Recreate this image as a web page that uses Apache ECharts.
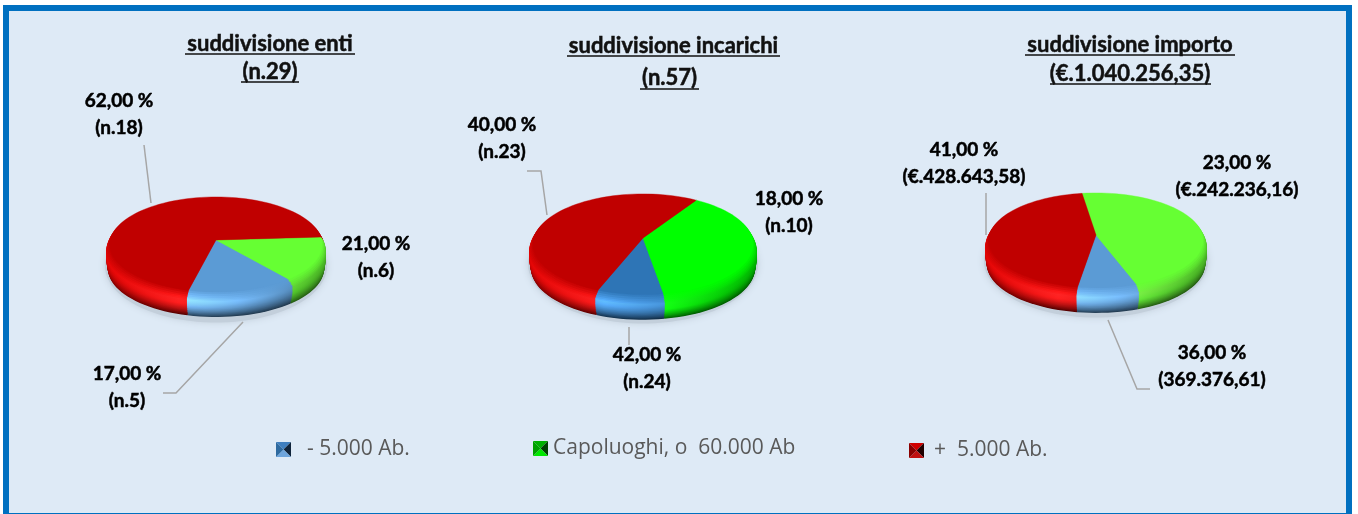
<!DOCTYPE html>
<html>
<head>
<meta charset="utf-8">
<title>suddivisione</title>
<style>
  html, body { margin: 0; padding: 0; background: #fff; }
  #main { width: 1358px; height: 514px; }
</style>
<script src="https://cdn.jsdelivr.net/npm/echarts@6/dist/echarts.min.js"></script>
</head>
<body>
<div id="main"></div>
<script>
// categories, in the legend order
const categories = ['- 5.000 Ab.', 'Capoluoghi, o  60.000 Ab', '+  5.000 Ab.'];

// slice shares as drawn in the picture (blue, green, red)
const sharesEnti = [14.8, 15.0, 70.2];
const sharesIncarichi = [8.6, 38.3, 53.1];
const sharesImporto = [8.0, 46.8, 45.2];

// printed texts
const titlesEnti = ['suddivisione enti', '(n.29)'];
const titlesIncarichi = ['suddivisione incarichi', '(n.57)'];
const titlesImporto = ['suddivisione importo', '(€.1.040.256,35)'];
const labelsEnti = [['17,00 %', '(n.5)'], ['21,00 %', '(n.6)'], ['62,00 %', '(n.18)']];
const labelsIncarichi = [['42,00 %', '(n.24)'], ['18,00 %', '(n.10)'], ['40,00 %', '(n.23)']];
const labelsImporto = [['36,00 %', '(369.376,61)'], ['23,00 %', '(€.242.236,16)'], ['41,00 %', '(€.428.643,58)']];

// layout of the three pies: apex, radii of the tilted disc, start of the green slice
const pies = [
  { shares: sharesEnti, ax: 216, ay: 240, rx: 110, ry: 49.5, k: 0.13, start: -3.6,
    colors: ['#5B9BD5', '#66FF33', '#C00000'],
    titles: titlesEnti, titleX: [270, 270], titleY: [44, 72],
    labels: labelsEnti, labelPos: [[127, 374], [376, 244], [119, 101]],
    leaders: [[[243, 322], [176, 393], [163, 393]], [[144, 145], [151, 203]]] },
  { shares: sharesIncarichi, ax: 643, ay: 238, rx: 114, ry: 52.5, k: 0.16, start: -57.4,
    colors: ['#2E75B6', '#00FF00', '#C00000'],
    titles: titlesIncarichi, titleX: [673.5, 669.5], titleY: [46, 78],
    labels: labelsIncarichi, labelPos: [[647, 355], [789, 199], [502, 125]],
    leaders: [[[629, 327], [629, 345]], [[527, 171], [541, 171], [547, 215]]] },
  { shares: sharesImporto, ax: 1096, ay: 235, rx: 111, ry: 49.5, k: 0.15, start: -98.4,
    colors: ['#5B9BD5', '#66FF33', '#C00000'],
    titles: titlesImporto, titleX: [1130, 1130], titleY: [45, 74],
    labels: labelsImporto, labelPos: [[1212, 353], [1237, 163], [964, 150]],
    leaders: [[[1108, 320], [1137, 389], [1150, 389]], [[986, 193], [986, 235]]] }
];

const RIM = 23;
const LIT = 6;

function hexRgb(hex) {
  return [1, 3, 5].map(i => parseInt(hex.substr(i, 2), 16));
}

function shade(rgb, f, w) {
  return 'rgb(' + rgb.map(c => Math.min(255, Math.round(c * f + 255 * w))).join(',') + ')';
}

function lerp(a, b, t) {
  return a + (b - a) * t;
}

// bevel: the flat top sits a bit inside the widest ring
function ringInset(t) {
  if (t < LIT) {
    return 0.06 * Math.pow(1 - t / LIT, 2);
  }
  return 0.03 * Math.pow((t - LIT) / (RIM - LIT), 2);
}

// light comes from the lower left of the disc
function rimFill(base, t, pie) {
  const rgb = hexRgb(base);
  const left = pie.ax - pie.rx;
  const right = pie.ax + pie.rx;
  const stops = [
    [0, 1.17, 0.02, 0.7],
    [0.33, 1.3, 0.14, 0.45],
    [0.6, 1.1, 0.08, 0.38],
    [1, 0.72, 0, 0.36]
  ].map(s => {
    let f, w;
    if (t < LIT) {
      f = lerp(1, s[1], t / LIT);
      w = lerp(0, s[2], t / LIT);
    } else {
      const q = Math.pow((t - LIT) / (RIM - LIT), 1.4);
      f = lerp(s[1], s[3], q);
      w = lerp(s[2], 0, q);
    }
    return { offset: s[0], color: shade(rgb, f, w) };
  });
  return new echarts.graphic.LinearGradient(left, 0, right, 0, stops, true);
}

function slicePoints(pie, a0, a1, t) {
  const k = pie.k;
  const sx = pie.rx * Math.sqrt(1 - k * k);
  const sy = pie.ry * (1 - k * k);
  const inset = ringInset(t);
  const pts = [[pie.ax, pie.ay + t]];
  const n = Math.max(2, Math.ceil((a1 - a0) / 3));
  for (let i = 0; i <= n; i++) {
    const a = (a0 + (a1 - a0) * i / n) * Math.PI / 180;
    const s = 1 - inset * (0.5 + 0.5 * Math.sin(a));
    const u = s * Math.cos(a);
    const v = s * Math.sin(a);
    const w = 1 - k * v;
    pts.push([pie.ax + sx * u / w, pie.ay + t + sy * v / w]);
  }
  return pts;
}

function makeRenderItem(pie) {
  // draw order around the disc: green, blue, red
  const order = [1, 0, 2];
  return function (params, api) {
    const idx = params.dataIndex;
    let from = pie.start;
    for (const o of order) {
      if (o === idx) break;
      from += pie.shares[o] * 3.6;
    }
    const to = from + api.value(0) * 3.6;
    const children = [];
    for (let t = RIM; t >= 0; t--) {
      children.push({
        type: 'polygon',
        z2: RIM - t + 2,
        shape: { points: slicePoints(pie, from, to, t) },
        style: {
          fill: t === 0 ? pie.colors[idx] : rimFill(pie.colors[idx], t, pie),
          stroke: t === 0 ? pie.colors[idx] : null,
          lineWidth: t === 0 ? 0.4 : 0
        }
      });
    }
    if (idx === 0) {
      const pts = [];
      for (let a = 0; a < 360; a += 4) {
        const r = a * Math.PI / 180;
        pts.push([pie.ax + (pie.rx + 1) * Math.cos(r), pie.ay + 26 + (pie.ry + 7) * Math.sin(r)]);
      }
      children.push({
        type: 'polygon',
        z2: 1,
        shape: { points: pts },
        style: { fill: '#C3CFDB', shadowBlur: 7, shadowColor: '#C3CFDB' }
      });
    }
    return { type: 'group', children: children };
  };
}

function text(x, y, str, size, weight, color, align) {
  return {
    type: 'text', x: x, y: y, z: 20, silent: true,
    style: {
      text: str, fill: color, align: align || 'center', verticalAlign: 'middle',
      fontFamily: 'Lato', fontSize: size, fontWeight: weight,
      stroke: weight === 'bold' ? color : null, lineWidth: weight === 'bold' ? 0.5 : 0
    }
  };
}

// coloured swatch of the legend, four little triangles
function swatch(x, y, size, tones) {
  const m = [x + size / 2, y + size / 2];
  const corners = [[x, y], [x + size, y], [x + size, y + size], [x, y + size]];
  return tones.map((c, i) => ({
    type: 'polygon', z: 20, silent: true,
    shape: { points: [corners[i], corners[(i + 1) % 4], m] },
    style: { fill: c }
  }));
}

const graphics = [
  { type: 'rect', z: -2, silent: true, shape: { x: 3, y: 5, width: 1349, height: 509 }, style: { fill: '#0070C0' } },
  { type: 'rect', z: -1, silent: true, shape: { x: 9, y: 11, width: 1337, height: 502 }, style: { fill: '#DEEAF6' } }
];

pies.forEach(pie => {
  pie.titles.forEach((t, i) => {
    graphics.push(text(pie.titleX[i], pie.titleY[i], t, 22, 'bold', '#111'));
  });
  pie.labels.forEach((pair, i) => {
    graphics.push(text(pie.labelPos[i][0], pie.labelPos[i][1], pair[0], 19, 'bold', '#000'));
    graphics.push(text(pie.labelPos[i][0], pie.labelPos[i][1] + 26.5, pair[1], 19, 'bold', '#000'));
  });
  pie.leaders.forEach(pts => {
    graphics.push({
      type: 'polyline', z: 19, silent: true,
      shape: { points: pts },
      style: { stroke: '#A6A6A6', lineWidth: 1.5, fill: null }
    });
  });
});

// underlines of the titles
const underlines = [
  [[185, 355, 54], [241, 299, 82]],
  [[567, 780, 56], [640, 699, 89]],
  [[1025, 1235, 55], [1050, 1211, 84]]
];
underlines.forEach(group => group.forEach(u => {
  graphics.push({
    type: 'line', z: 20, silent: true,
    shape: { x1: u[0], y1: u[2], x2: u[1], y2: u[2] },
    style: { stroke: '#111', lineWidth: 1.6 }
  });
}));

graphics.push(...swatch(276, 442, 15, ['#3F7FBF', '#10243A', '#6EA5DC', '#2E6AA0']));
graphics.push(...swatch(533, 441, 15, ['#00B000', '#004000', '#00E800', '#00A000']));
graphics.push(...swatch(909, 443, 15, ['#D00000', '#200000', '#C01010', '#8A0000']));

const legendPos = [[307, 449], [553, 448], [934, 450]];
categories.forEach((c, i) => {
  const t = text(legendPos[i][0], legendPos[i][1], c, 21, 'normal', '#595959', 'left');
  t.style.fontFamily = 'Open Sans';
  graphics.push(t);
});

const chart = echarts.init(document.getElementById('main'), null, { renderer: 'canvas' });
chart.setOption({
  animation: false,
  graphic: graphics,
  series: pies.map((pie, i) => ({
    type: 'custom',
    coordinateSystem: 'none',
    name: pie.titles[0],
    silent: true,
    z: 5,
    renderItem: makeRenderItem(pie),
    data: pie.shares.map(v => [v])
  }))
});
</script>
</body>
</html>
